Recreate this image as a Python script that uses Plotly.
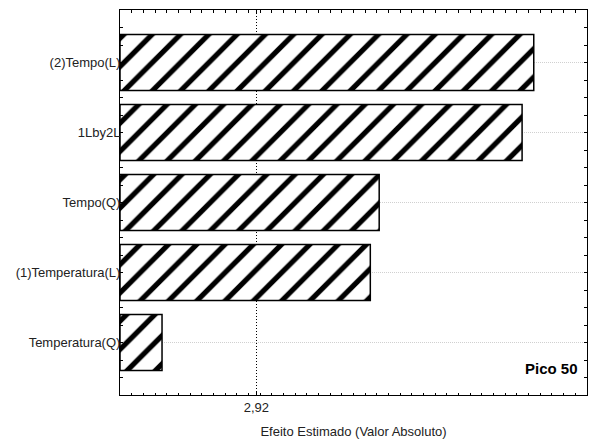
import plotly.graph_objects as go

categories = ["Temperatura(Q)", "(1)Temperatura(L)", "Tempo(Q)", "1Lby2L", "(2)Tempo(L)"]
effects = [0.90, 5.36, 5.55, 8.61, 8.86]
threshold = 2.92
threshold_label = "2,92"
x_range = [0, 10]
note = "Pico 50"

positions = list(range(len(categories)))

fig = go.Figure()
fig.add_trace(go.Bar(
    x=effects, y=positions, orientation="h",
    marker=dict(color="white",
                line=dict(color="black", width=1.5),
                pattern=dict(shape="/", fgcolor="black", bgcolor="white",
                             size=20, solidity=0.26, fillmode="replace")),
    width=0.8, showlegend=False, hoverinfo="skip",
))

font = dict(family="Liberation Sans, Arial, sans-serif", size=13, color="#222")

fig.update_layout(
    width=595, height=444,
    margin=dict(l=120, r=7, t=10, b=47),
    plot_bgcolor="white", paper_bgcolor="white",
    separators=",.",
    font=font,
    xaxis=dict(range=x_range, tickvals=[threshold], ticktext=[threshold_label],
               showgrid=True, gridcolor="black", griddash="1px,2px", gridwidth=1,
               ticks="inside", ticklen=4, tickcolor="black",
               showline=True, linecolor="black", linewidth=1, mirror="allticks",
               minor=dict(ticks="inside", dtick=0.25, tick0=0, ticklen=2.5,
                          tickcolor="black", showgrid=False),
               title=dict(text="Efeito Estimado (Valor Absoluto)", standoff=13,
                          font=dict(size=13)),
               tickfont=dict(size=13),
               zeroline=False, fixedrange=True),
    yaxis=dict(range=[-0.75, len(categories) - 0.25], tickvals=positions, ticktext=categories,
               showgrid=True, gridcolor="#d0d0d0", griddash="1px,1px", gridwidth=1,
               ticks="inside", ticklen=3, tickcolor="black",
               showline=True, linecolor="black", linewidth=1, mirror="allticks",
               minor=dict(ticks="inside", dtick=0.25, tick0=-0.75, ticklen=3,
                          tickcolor="black", showgrid=False),
               ticklabelstandoff=-4,
               tickfont=dict(size=13),
               zeroline=False, fixedrange=True),
)

fig.add_annotation(text="<b>" + note + "</b>", xref="paper", yref="paper",
                   x=1, y=0.07, xanchor="right", yanchor="middle", xshift=-7,
                   showarrow=False, font=dict(size=15, color="black"))

fig.write_html("out.html")
